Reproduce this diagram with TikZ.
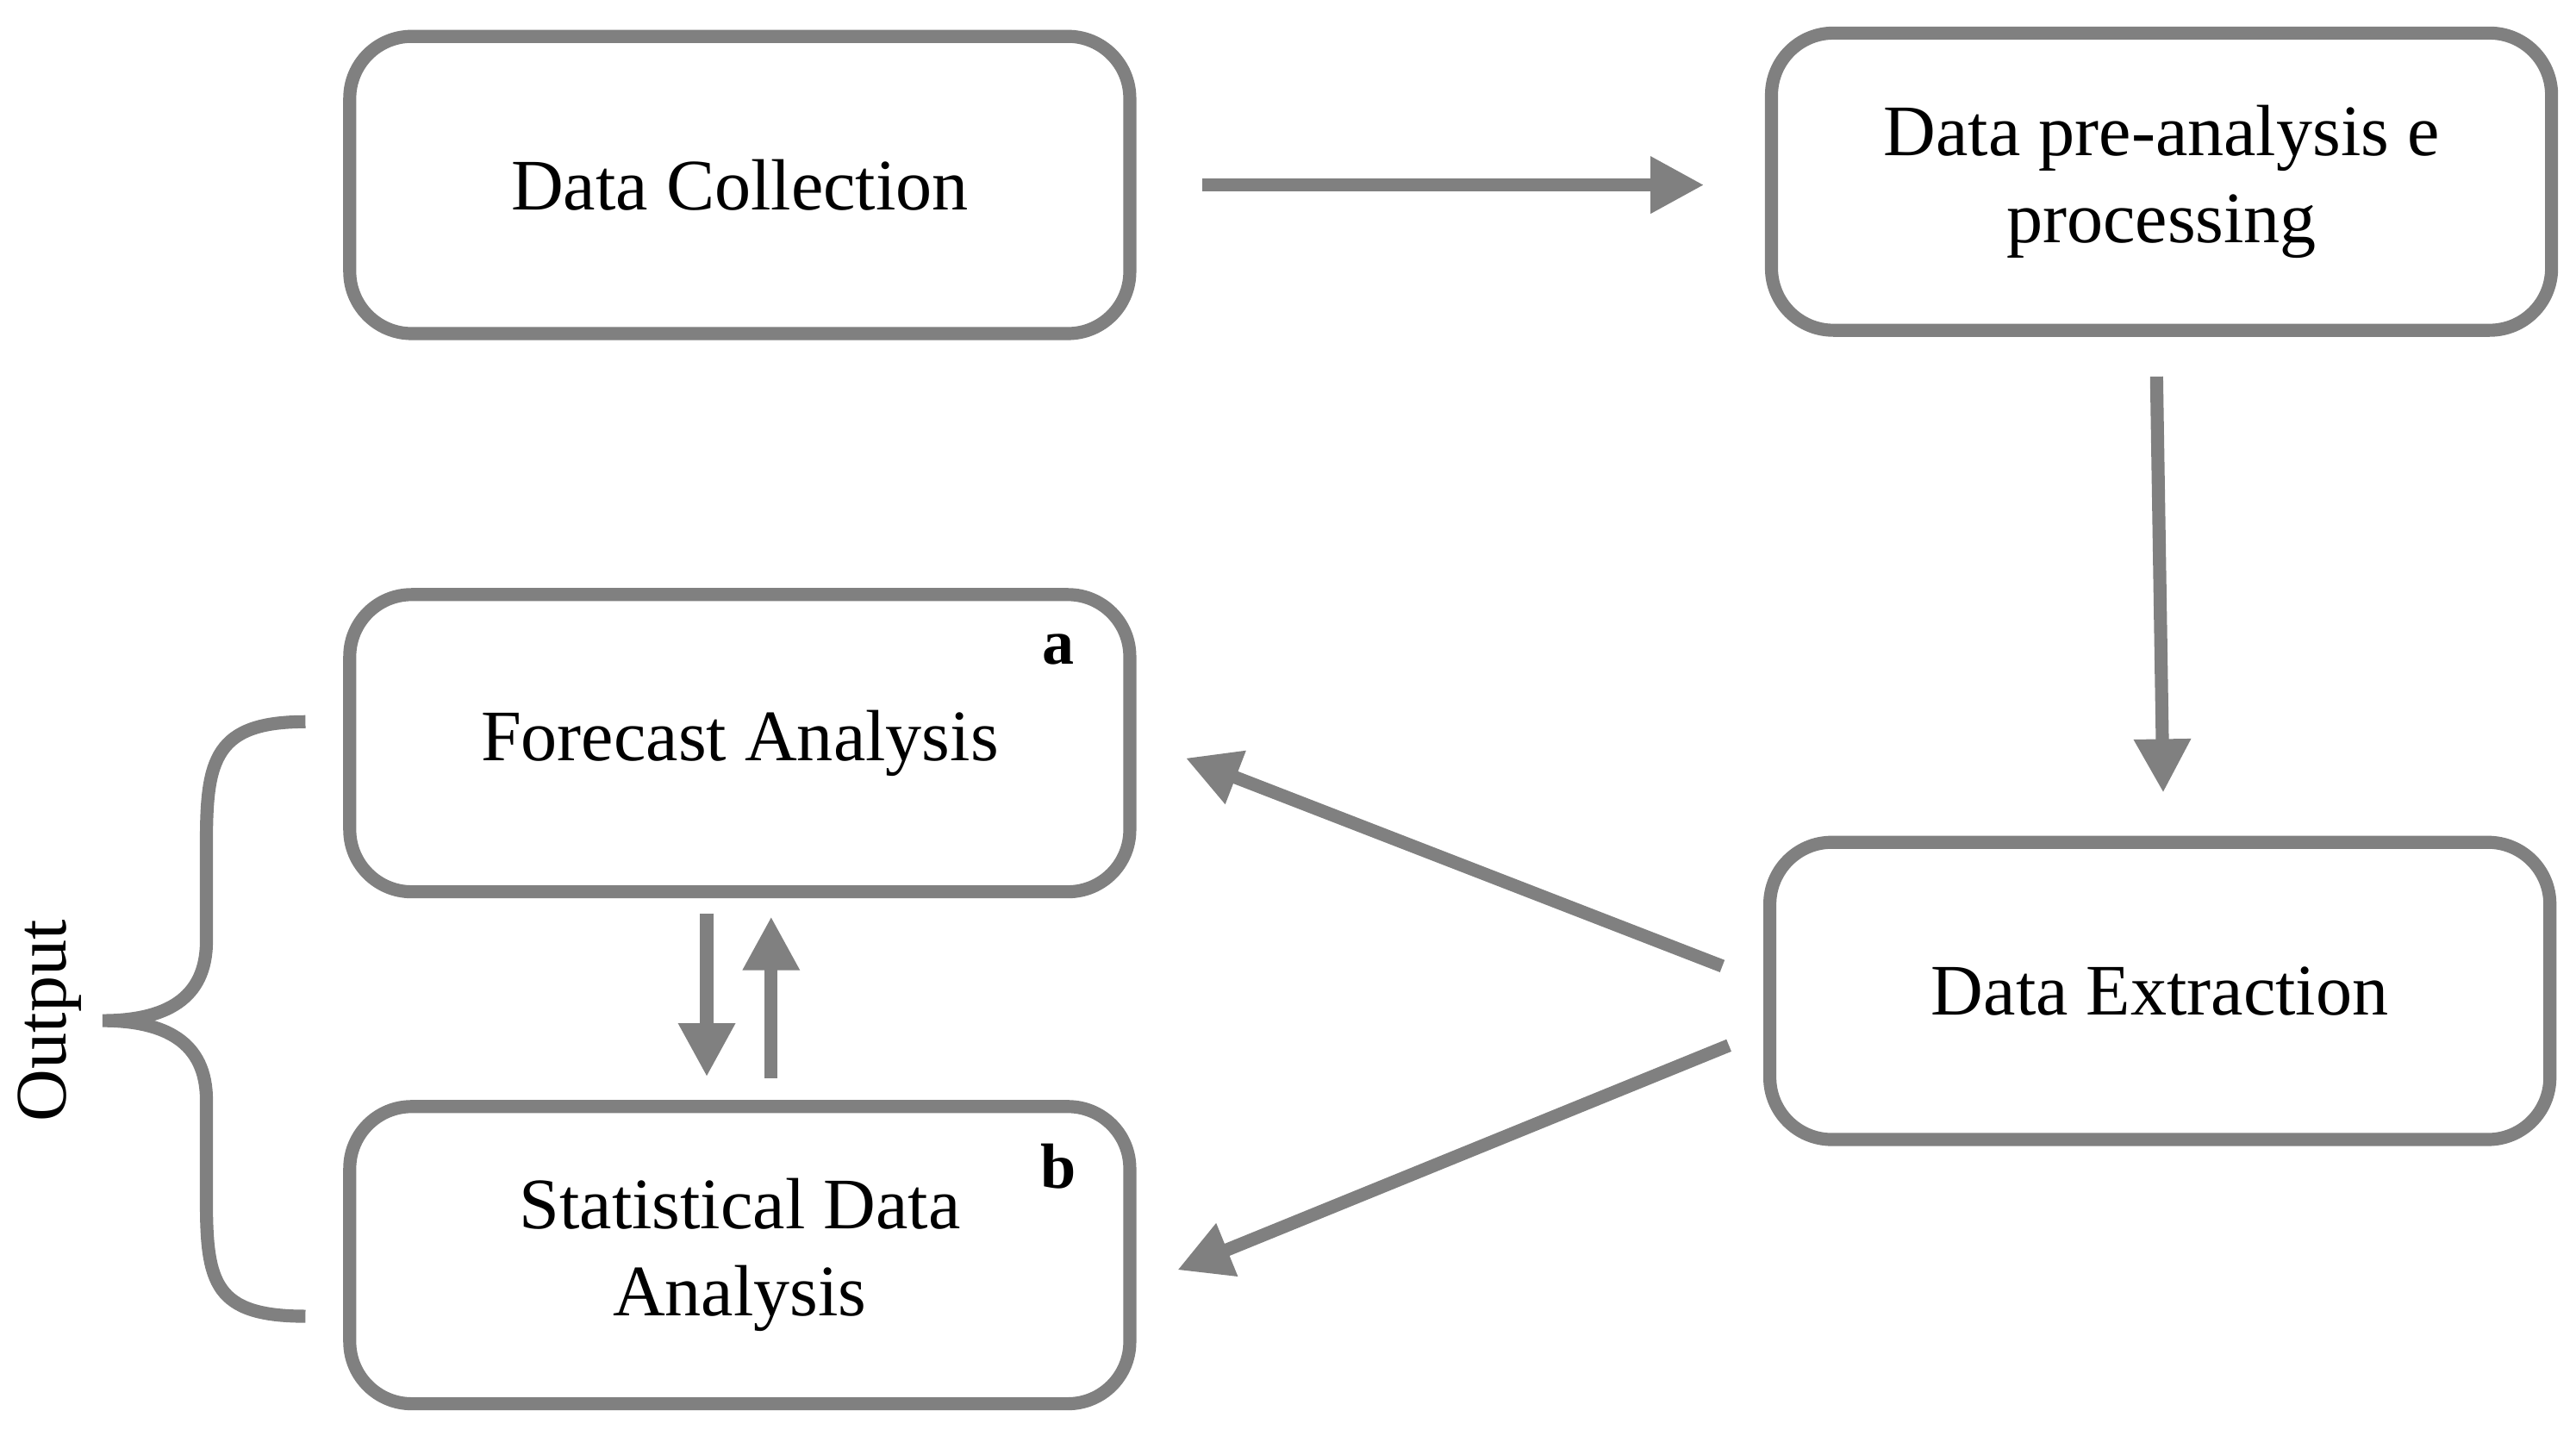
\documentclass[tikz,border=0pt]{standalone}
\usepackage{fontspec}
\setmainfont{Liberation Serif}
\usetikzlibrary{arrows.meta,positioning}
\definecolor{boxgray}{RGB}{128,128,128}
\tikzset{
    box/.style={draw=boxgray, line width=4.5pt, rounded corners=0.75cm,
        minimum width=9.45cm, minimum height=3.6cm, align=center,
        font=\fontsize{25}{30}\selectfont},
    arr/.style={draw=boxgray, line width=4.5pt,
        -{Triangle[length=0.65cm,width=0.65cm]}},
    tag/.style={font=\fontsize{22}{26}\selectfont\bfseries}
}
\begin{document}
\begin{tikzpicture}[x=0.02cm, y=-0.02cm]
    \useasboundingbox (0,0) rectangle (1560,869);
    % boxes
    \node[box] (collect) at (448,112) {Data Collection};
    \node[box] (preproc) at (1309,110) {Data pre-analysis e\\processing};
    \node[box] (forecast) at (448,450) {Forecast Analysis};
    \node[box] (stats) at (448,760) {Statistical Data\\Analysis};
    \node[box] (extract) at (1308,600) {Data Extraction};
    \node[tag] (taga) at (641,393) {a};
    \node[tag] (tagb) at (641,706) {b};
    % arrow ends
    \coordinate (c1) at (728,112);  \coordinate (c2) at (1032,112);
    \coordinate (c3) at (1306,228); \coordinate (c4) at (1310,480);
    \coordinate (c5) at (1043,585); \coordinate (c6) at (718,459);
    \coordinate (c7) at (1047,633); \coordinate (c8) at (713,769);
    \coordinate (c9) at (428,553);  \coordinate (c10) at (428,652);
    \coordinate (c11) at (467,653); \coordinate (c12) at (467,555);
    \draw[arr] (c1) -- (c2);
    \draw[arr] (c3) -- (c4);
    \draw[arr] (c5) -- (c6);
    \draw[arr] (c7) -- (c8);
    \draw[arr] (c9) -- (c10);
    \draw[arr] (c11) -- (c12);
    % output brace
    \coordinate (btop) at (185,437);
    \coordinate (bbot) at (185,797);
    \coordinate (btip) at (62,618);
    \draw[boxgray, line width=4.5pt]
        (btop) .. controls (130,437) and (125,460) .. (125,510) -- (125,570)
        .. controls (125,605) and (100,618) .. (btip)
        .. controls (100,618) and (125,631) .. (125,666) -- (125,727)
        .. controls (125,777) and (130,797) .. (bbot);
    \node[rotate=90, font=\fontsize{25}{30}\selectfont] (output) at (30,618) {Output};
\end{tikzpicture}
\end{document}
